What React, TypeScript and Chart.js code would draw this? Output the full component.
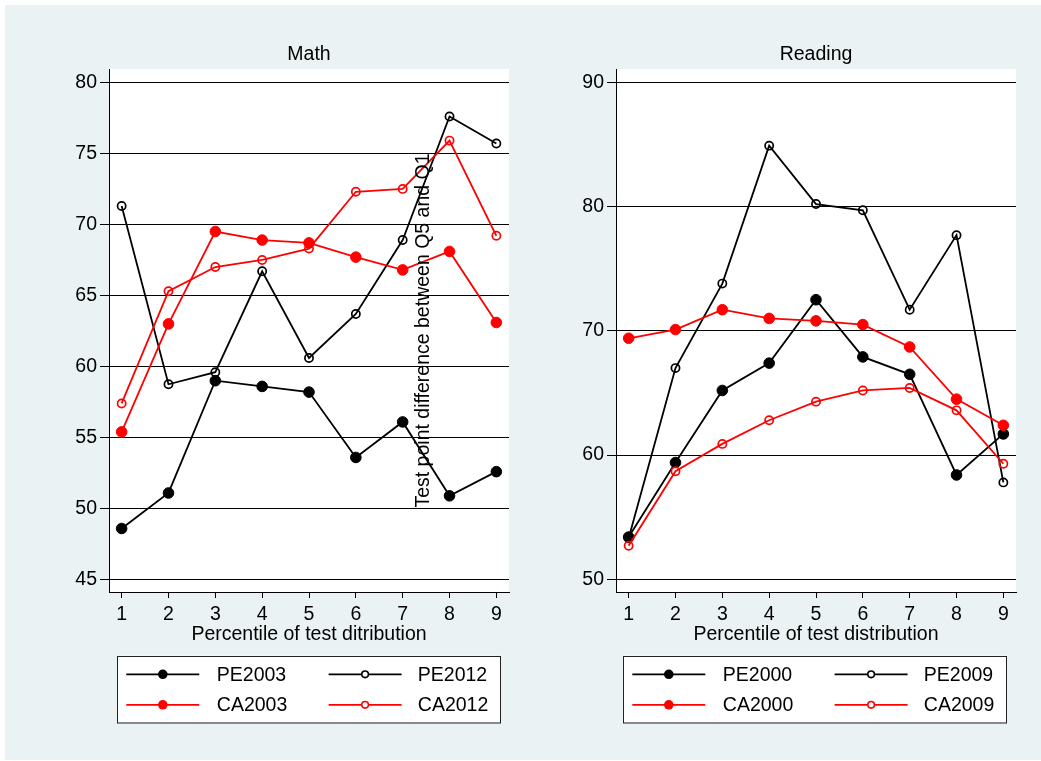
import React, { useEffect, useRef } from 'react';
import { Chart, registerables } from 'chart.js';

Chart.register(...registerables);
Chart.defaults.font.family = '"Liberation Sans", Arial, Helvetica, sans-serif';
Chart.defaults.font.size = 19.5;
Chart.defaults.color = '#000';

// ---- data ----
const percentiles = [1, 2, 3, 4, 5, 6, 7, 8, 9];
const mathYTicks = [45, 50, 55, 60, 65, 70, 75, 80];
const readingYTicks = [50, 60, 70, 80, 90];

const pe2003 = [48.6, 51.1, 59.0, 58.6, 58.2, 53.6, 56.1, 50.9, 52.6];
const pe2012 = [71.3, 58.75, 59.6, 66.7, 60.6, 63.7, 68.9, 77.6, 75.7];
const ca2003 = [55.4, 63.0, 69.5, 68.9, 68.7, 67.7, 66.8, 68.1, 63.1];
const ca2012 = [57.4, 65.3, 67.0, 67.5, 68.3, 72.3, 72.5, 75.9, 69.2];

const pe2000 = [53.4, 59.4, 65.2, 67.4, 72.5, 67.9, 66.5, 58.4, 61.7];
const pe2009 = [53.3, 67.0, 73.8, 84.9, 80.2, 79.7, 71.7, 77.7, 57.8];
const ca2000 = [69.4, 70.1, 71.7, 71.0, 70.8, 70.5, 68.7, 64.5, 62.4];
const ca2009 = [52.7, 58.7, 60.9, 62.8, 64.3, 65.2, 65.4, 63.6, 59.3];

const BLACK = '#000000';
const RED = '#FF0000';
const FS = 19.5;
const FONT = `${FS}px "Liberation Sans", Arial, Helvetica, sans-serif`;

function series(label: string, values: number[], color: string, filled: boolean, order: number) {
  return {
    label,
    data: percentiles.map((p, i) => ({ x: p, y: values[i] })),
    borderColor: color,
    backgroundColor: color,
    borderWidth: 1.8,
    pointRadius: filled ? 5.3 : 4.1,
    pointBorderWidth: filled ? 1 : 1.7,
    pointBackgroundColor: filled ? color : 'rgba(0,0,0,0)',
    pointBorderColor: color,
    pointStyle: 'circle',
    tension: 0,
    fill: false,
    order,
    _filled: filled,
  } as any;
}

const panelPlugin = {
  id: 'panel',
  beforeDraw(chart: any) {
    const { ctx, chartArea: a } = chart;
    ctx.save();
    ctx.fillStyle = '#FFFFFF';
    ctx.fillRect(a.left, a.top, a.right - a.left, a.bottom - a.top);
    ctx.restore();
  },
  afterDraw(chart: any, _args: any, opts: any) {
    const { ctx, chartArea: a } = chart;
    ctx.save();
    ctx.font = FONT;
    ctx.fillStyle = '#000';
    ctx.textAlign = 'center';
    ctx.textBaseline = 'middle';
    ctx.fillText(opts.title, (a.left + a.right) / 2, opts.titleY);

    // boxed legend
    const { lx, ly, lw, lh } = opts;
    ctx.fillStyle = '#FFFFFF';
    ctx.fillRect(lx, ly, lw, lh);
    ctx.strokeStyle = '#222';
    ctx.lineWidth = 1;
    ctx.strokeRect(Math.round(lx) + 0.5, Math.round(ly) + 0.5, lw, lh);
    chart.data.datasets.forEach((ds: any, i: number) => {
      const col = i % 2;
      const row = Math.floor(i / 2);
      const y = ly + 18.6 + row * 30.5;
      const x0 = lx + 9 + col * 202.3;
      const x1 = x0 + 73;
      const xm = (x0 + x1) / 2;
      ctx.strokeStyle = ds.borderColor;
      ctx.lineWidth = 1.8;
      ctx.beginPath();
      ctx.moveTo(x0, y);
      ctx.lineTo(x1, y);
      ctx.stroke();
      ctx.beginPath();
      if (ds._filled) {
        ctx.arc(xm, y, 4.8, 0, Math.PI * 2);
        ctx.fillStyle = ds.borderColor;
        ctx.fill();
      } else {
        ctx.arc(xm, y, 3.3, 0, Math.PI * 2);
        ctx.fillStyle = '#FFFFFF';
        ctx.fill();
        ctx.lineWidth = 1.6;
        ctx.stroke();
      }
      ctx.fillStyle = '#000';
      ctx.textAlign = 'left';
      ctx.textBaseline = 'middle';
      ctx.fillText(ds.label, lx + 99.5 + col * 201, y + 1);
    });
    ctx.restore();
  },
};

interface PanelCfg {
  left: number;
  width: number;
  yWidth: number;
  padRight: number;
  yMin: number;
  yMax: number;
  yTicks: number[];
  title: string;
  xTitle: string;
  yTitle?: string;
  legendX: number;
  datasets: any[];
}

function Panel({ cfg }: { cfg: PanelCfg }) {
  const ref = useRef<HTMLCanvasElement>(null);
  useEffect(() => {
    const chart = new Chart(ref.current as HTMLCanvasElement, {
      type: 'line',
      data: { datasets: cfg.datasets },
      plugins: [panelPlugin as any],
      options: {
        animation: false,
        responsive: false,
        maintainAspectRatio: false,
        layout: { padding: { left: 0, top: 69, right: cfg.padRight, bottom: 111 } },
        plugins: {
          legend: { display: false },
          tooltip: { enabled: false },
          title: { display: false },
          panel: { title: cfg.title, titleY: 55, lx: cfg.legendX, ly: 655.7, lw: 383, lh: 66.5 },
        } as any,
        scales: {
          x: {
            type: 'linear',
            min: 0.73,
            max: 9.27,
            afterBuildTicks: (s: any) => {
              s.ticks = percentiles.map((v) => ({ value: v }));
            },
            afterFit: (s: any) => {
              s.height = 58;
            },
            grid: { drawOnChartArea: false, drawTicks: true, tickLength: 6, color: '#000', lineWidth: 1 },
            border: { display: true, color: '#000', width: 1 },
            ticks: { padding: 5, color: '#000', font: { size: FS }, maxRotation: 0, autoSkip: false, callback: (v: any) => String(v) },
            title: { display: true, text: cfg.xTitle, color: '#000', font: { size: FS }, padding: { top: 0, bottom: 4 } },
          },
          y: {
            type: 'linear',
            min: cfg.yMin,
            max: cfg.yMax,
            afterBuildTicks: (s: any) => {
              s.ticks = cfg.yTicks.map((v) => ({ value: v }));
            },
            afterFit: (s: any) => {
              s.width = cfg.yWidth;
            },
            grid: { drawOnChartArea: true, drawTicks: true, tickLength: 9, color: '#000', lineWidth: 1 },
            border: { display: true, color: '#000', width: 1 },
            ticks: { padding: 3, color: '#000', font: { size: FS }, callback: (v: any) => String(v) },
            title: cfg.yTitle
              ? { display: true, text: cfg.yTitle, color: '#000', font: { size: FS }, padding: { top: 4, bottom: 0 } }
              : { display: false },
          },
        } as any,
      },
    });
    return () => chart.destroy();
  }, []);
  return (
    <canvas
      ref={ref}
      width={cfg.width}
      height={761}
      style={{ position: 'absolute', left: cfg.left, top: 0, width: cfg.width, height: 761 }}
    />
  );
}

const mathCfg: PanelCfg = {
  left: 0,
  width: 530,
  yWidth: 109,
  padRight: 21,
  yMin: 44.13,
  yMax: 80.94,
  yTicks: mathYTicks,
  title: 'Math',
  xTitle: 'Percentile of test ditribution',
  legendX: 117.3,
  datasets: [
    series('PE2003', pe2003, BLACK, true, 3),
    series('PE2012', pe2012, BLACK, false, 2),
    series('CA2003', ca2003, RED, true, 1),
    series('CA2012', ca2012, RED, false, 0),
  ],
};

const readingCfg: PanelCfg = {
  left: 408,
  width: 633,
  yWidth: 208,
  padRight: 25,
  yMin: 48.98,
  yMax: 91.07,
  yTicks: readingYTicks,
  title: 'Reading',
  xTitle: 'Percentile of test distribution',
  yTitle: 'Test point difference between Q5 and Q1',
  legendX: 215.3,
  datasets: [
    series('PE2000', pe2000, BLACK, true, 3),
    series('PE2009', pe2009, BLACK, false, 2),
    series('CA2000', ca2000, RED, true, 1),
    series('CA2009', ca2009, RED, false, 0),
  ],
};

export default function App() {
  return (
    <div style={{ position: 'absolute', left: 0, top: 0, width: 1041, height: 761, background: '#FFFFFF', overflow: 'hidden' }}>
      <div style={{ position: 'absolute', left: 5, top: 5, width: 1036, height: 755, background: '#EAF2F3' }} />
      <Panel cfg={mathCfg} />
      <Panel cfg={readingCfg} />
    </div>
  );
}
